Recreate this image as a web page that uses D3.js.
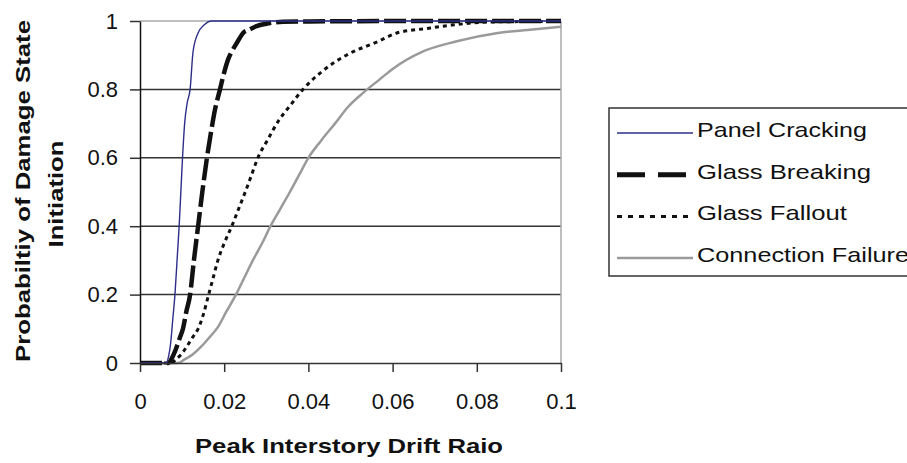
<!DOCTYPE html>
<html>
<head>
<meta charset="utf-8">
<script src="https://cdn.jsdelivr.net/npm/d3@7"></script>
<style>
  body { margin: 0; background: #fff; }
  text { font-family: Arial, "Liberation Sans", sans-serif; fill: #111; }
</style>
</head>
<body>
<div id="vis"></div>
<script>
// Frame and plot area
const FRAME_WIDTH = 907;
const FRAME_HEIGHT = 463;
const PLOT = {left: 140, right: 561, top: 21, bottom: 363};

// Tick values
const X_TICKS = [0, 0.02, 0.04, 0.06, 0.08, 0.1];
const Y_TICKS = [0, 0.2, 0.4, 0.6, 0.8, 1];

// Series (drift ratio, probability)
const PANEL_X = [0, 0.0062, 0.0068, 0.0073, 0.0078, 0.0083, 0.0088, 0.0093, 0.0097, 0.0101, 0.0106, 0.0112, 0.0119, 0.0126, 0.0138, 0.0152, 0.0170, 0.1];
const PANEL_Y = [0, 0, 0.02, 0.06, 0.13, 0.2, 0.3, 0.4, 0.5, 0.6, 0.7, 0.76, 0.8, 0.91, 0.965, 0.988, 1, 1];

const BREAK_X = [0, 0.0068, 0.0074, 0.0080, 0.0088, 0.0095, 0.0102, 0.0110, 0.0119, 0.0128, 0.0138, 0.0148, 0.0159, 0.0168, 0.0178, 0.0190, 0.0200, 0.0210, 0.0220, 0.0232, 0.0245, 0.0260, 0.0277, 0.0300, 0.0340, 0.045, 0.06, 0.1];
const BREAK_Y = [0, 0, 0.01, 0.025, 0.05, 0.075, 0.1, 0.15, 0.2, 0.3, 0.4, 0.5, 0.6, 0.67, 0.74, 0.8, 0.85, 0.89, 0.915, 0.94, 0.965, 0.975, 0.985, 0.992, 0.998, 0.999, 1, 1];

const FALL_X = [0, 0.0074, 0.0085, 0.0098, 0.0112, 0.0125, 0.0138, 0.0150, 0.0162, 0.0174, 0.0185, 0.0200, 0.0218, 0.0234, 0.0250, 0.0265, 0.0280, 0.0302, 0.0330, 0.0355, 0.0387, 0.0430, 0.0490, 0.0565, 0.0610, 0.0680, 0.0740, 0.0830, 0.1];
const FALL_Y = [0, 0, 0.01, 0.025, 0.05, 0.075, 0.1, 0.14, 0.195, 0.25, 0.3, 0.35, 0.4, 0.45, 0.5, 0.55, 0.6, 0.65, 0.71, 0.75, 0.8, 0.85, 0.9, 0.94, 0.965, 0.978, 0.988, 0.997, 0.999];

const CONN_X = [0, 0.0090, 0.0105, 0.0125, 0.0147, 0.0165, 0.0185, 0.0205, 0.0228, 0.0248, 0.0268, 0.0290, 0.0310, 0.0333, 0.0356, 0.0378, 0.0400, 0.0430, 0.0463, 0.0495, 0.0530, 0.0570, 0.0600, 0.0670, 0.0750, 0.0850, 0.0920, 0.1];
const CONN_Y = [0, 0, 0.01, 0.025, 0.05, 0.075, 0.105, 0.15, 0.2, 0.25, 0.3, 0.35, 0.4, 0.45, 0.5, 0.55, 0.6, 0.65, 0.7, 0.75, 0.79, 0.83, 0.86, 0.91, 0.94, 0.965, 0.974, 0.983];

const SERIES = [
  {name: "Connection Failure", xs: CONN_X, ys: CONN_Y, color: "#9a9a9a", width: 2.5, dash: null, legendDash: null, textLen: 212},
  {name: "Glass Fallout", xs: FALL_X, ys: FALL_Y, color: "#111", width: 3, dash: "4,4", legendDash: "5,6", textLen: 150},
  {name: "Glass Breaking", xs: BREAK_X, ys: BREAK_Y, color: "#111", width: 4.5, dash: "22,5", legendDash: "28,13", textLen: 174},
  {name: "Panel Cracking", xs: PANEL_X, ys: PANEL_Y, color: "#2e2e8a", width: 1.4, dash: null, legendDash: null, textLen: 170}
];
const LEGEND_ORDER = ["Panel Cracking", "Glass Breaking", "Glass Fallout", "Connection Failure"];

const FRAME = d3.select("#vis")
  .append("svg")
    .attr("width", FRAME_WIDTH)
    .attr("height", FRAME_HEIGHT);

// Scales
const X_SCALE = d3.scaleLinear().domain([0, 0.1]).range([PLOT.left, PLOT.right]);
const Y_SCALE = d3.scaleLinear().domain([0, 1]).range([PLOT.bottom, PLOT.top]);

// Horizontal gridlines (top one is light gray like the border)
FRAME.append("g")
  .selectAll("line")
  .data(Y_TICKS.filter(d => d > 0))
  .enter()
  .append("line")
    .attr("x1", PLOT.left)
    .attr("x2", PLOT.right)
    .attr("y1", d => Y_SCALE(d))
    .attr("y2", d => Y_SCALE(d))
    .attr("stroke", d => d === 1 ? "#a8a8a8" : "#333")
    .attr("stroke-width", 1.5);

// Right border
FRAME.append("line")
  .attr("x1", PLOT.right).attr("x2", PLOT.right)
  .attr("y1", PLOT.top).attr("y2", PLOT.bottom)
  .attr("stroke", "#a8a8a8")
  .attr("stroke-width", 1.5);

// Curves
const line = d3.line()
  .curve(d3.curveMonotoneX)
  .x(d => X_SCALE(d[0]))
  .y(d => Y_SCALE(d[1]));

FRAME.append("g")
  .selectAll("path")
  .data(SERIES)
  .enter()
  .append("path")
    .attr("d", s => line(s.xs.map((x, i) => [x, s.ys[i]])))
    .attr("fill", "none")
    .attr("stroke", s => s.color)
    .attr("stroke-width", s => s.width)
    .attr("stroke-dasharray", s => s.dash)
    .attr("stroke-linejoin", "round");

// Y axis
const yAxis = FRAME.append("g")
  .attr("transform", "translate(" + PLOT.left + ",0)")
  .call(d3.axisLeft(Y_SCALE).tickValues(Y_TICKS).tickFormat(d => d).tickSize(10).tickSizeOuter(0).tickPadding(12));
yAxis.select(".domain").attr("stroke", "#111").attr("stroke-width", 1.5);
yAxis.selectAll(".tick line").attr("stroke", "#333").attr("stroke-width", 1.5);
yAxis.selectAll("text").attr("font-size", "22px").attr("fill", "#111").style("font-family", "Arial, 'Liberation Sans', sans-serif");

// X axis
const xAxis = FRAME.append("g")
  .attr("transform", "translate(0," + PLOT.bottom + ")")
  .call(d3.axisBottom(X_SCALE).tickValues(X_TICKS).tickFormat(d => d).tickSize(9).tickSizeOuter(0).tickPadding(21));
xAxis.select(".domain").attr("stroke", "#333").attr("stroke-width", 1.5);
xAxis.selectAll(".tick line").attr("stroke", "#333").attr("stroke-width", 1.5);
xAxis.selectAll("text").attr("font-size", "22px").attr("fill", "#111").style("font-family", "Arial, 'Liberation Sans', sans-serif");

// Axis titles
FRAME.append("text")
  .attr("x", 349)
  .attr("y", 453)
  .attr("text-anchor", "middle")
  .attr("font-size", "21px")
  .attr("font-weight", "bold")
  .attr("textLength", 308)
  .attr("lengthAdjust", "spacingAndGlyphs")
  .text("Peak Interstory Drift Raio");

FRAME.append("text")
  .attr("transform", "translate(30,191) rotate(-90)")
  .attr("text-anchor", "middle")
  .attr("font-size", "21px")
  .attr("font-weight", "bold")
  .attr("textLength", 342)
  .attr("lengthAdjust", "spacingAndGlyphs")
  .text("Probabiltiy of Damage State");

FRAME.append("text")
  .attr("transform", "translate(63,194) rotate(-90)")
  .attr("text-anchor", "middle")
  .attr("font-size", "21px")
  .attr("font-weight", "bold")
  .attr("textLength", 107)
  .attr("lengthAdjust", "spacingAndGlyphs")
  .text("Initiation");

// Legend
const LEGEND = FRAME.append("g");
LEGEND.append("rect")
  .attr("x", 609).attr("y", 108)
  .attr("width", 320).attr("height", 168)
  .attr("fill", "#fff")
  .attr("stroke", "#333")
  .attr("stroke-width", 1.5);

const rows = LEGEND.selectAll("g.row")
  .data(LEGEND_ORDER.map(n => SERIES.find(s => s.name === n)))
  .enter()
  .append("g")
    .attr("class", "row")
    .attr("transform", (d, i) => "translate(0," + (133 + i * 41.7) + ")");

rows.append("line")
  .attr("x1", 617).attr("x2", 693)
  .attr("y1", 0).attr("y2", 0)
  .attr("stroke", d => d.color)
  .attr("stroke-width", d => d.name === "Glass Breaking" ? 5 : d.width)
  .attr("stroke-dasharray", d => d.legendDash);

rows.append("text")
  .attr("x", 697)
  .attr("y", 4)
  .attr("font-size", "21px")
  .attr("textLength", d => d.textLen)
  .attr("lengthAdjust", "spacingAndGlyphs")
  .text(d => d.name);
</script>
</body>
</html>
